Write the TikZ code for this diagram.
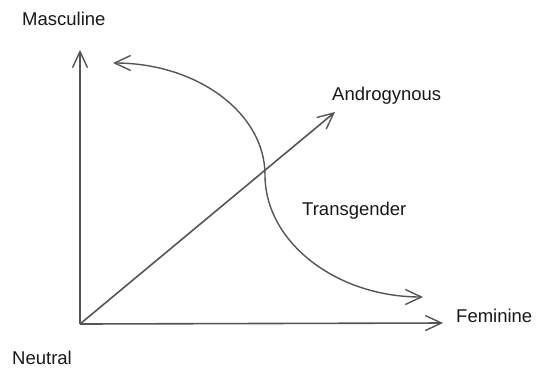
\documentclass[tikz,border=0pt]{standalone}
\usepackage{fontspec}
\setmainfont{Liberation Sans}
\usetikzlibrary{arrows.meta}
\definecolor{linegray}{RGB}{85,85,85}
\definecolor{textblack}{RGB}{25,25,25}
\tikzset{
  axisline/.style={draw=linegray, line width=1.6pt, -{Straight Barb[length=16pt,width=15pt,line width=1.4pt]}},
  curveline/.style={draw=linegray, line width=1.4pt},
  lbl/.style={anchor=base west, inner sep=0pt, text=textblack, font=\fontsize{18.5pt}{20pt}\selectfont}
}
\begin{document}
\begin{tikzpicture}[x=1pt,y=-1pt]
\useasboundingbox (0,0) rectangle (537,368);
\fill[white] (0,0) rectangle (537,368);
\coordinate (O) at (80,324);
\coordinate (M) at (80,50);
\coordinate (F) at (443,323);
\coordinate (A) at (335,112);
\coordinate (C1) at (113,63);
\coordinate (C2) at (265,175);
\coordinate (C3) at (423,297);
\draw[axisline] (O) -- (M);
\draw[axisline] (O) -- (F);
\draw[axisline] (O) -- (A);
\draw[curveline, {Straight Barb[length=16pt,width=15pt,line width=1.4pt]}-{Straight Barb[length=16pt,width=15pt,line width=1.4pt]}]
  (C1) .. controls (197,63) and (265,113) .. (C2)
       .. controls (265,242) and (336,297) .. (C3);
\node[lbl] (masc) at (22,25) {Masculine};
\node[lbl] (andr) at (332,100) {Androgynous};
\node[lbl] (trans) at (302,215) {Transgender};
\node[lbl] (fem) at (456,322) {Feminine};
\node[lbl] (neut) at (12,364) {Neutral};
\end{tikzpicture}
\end{document}
